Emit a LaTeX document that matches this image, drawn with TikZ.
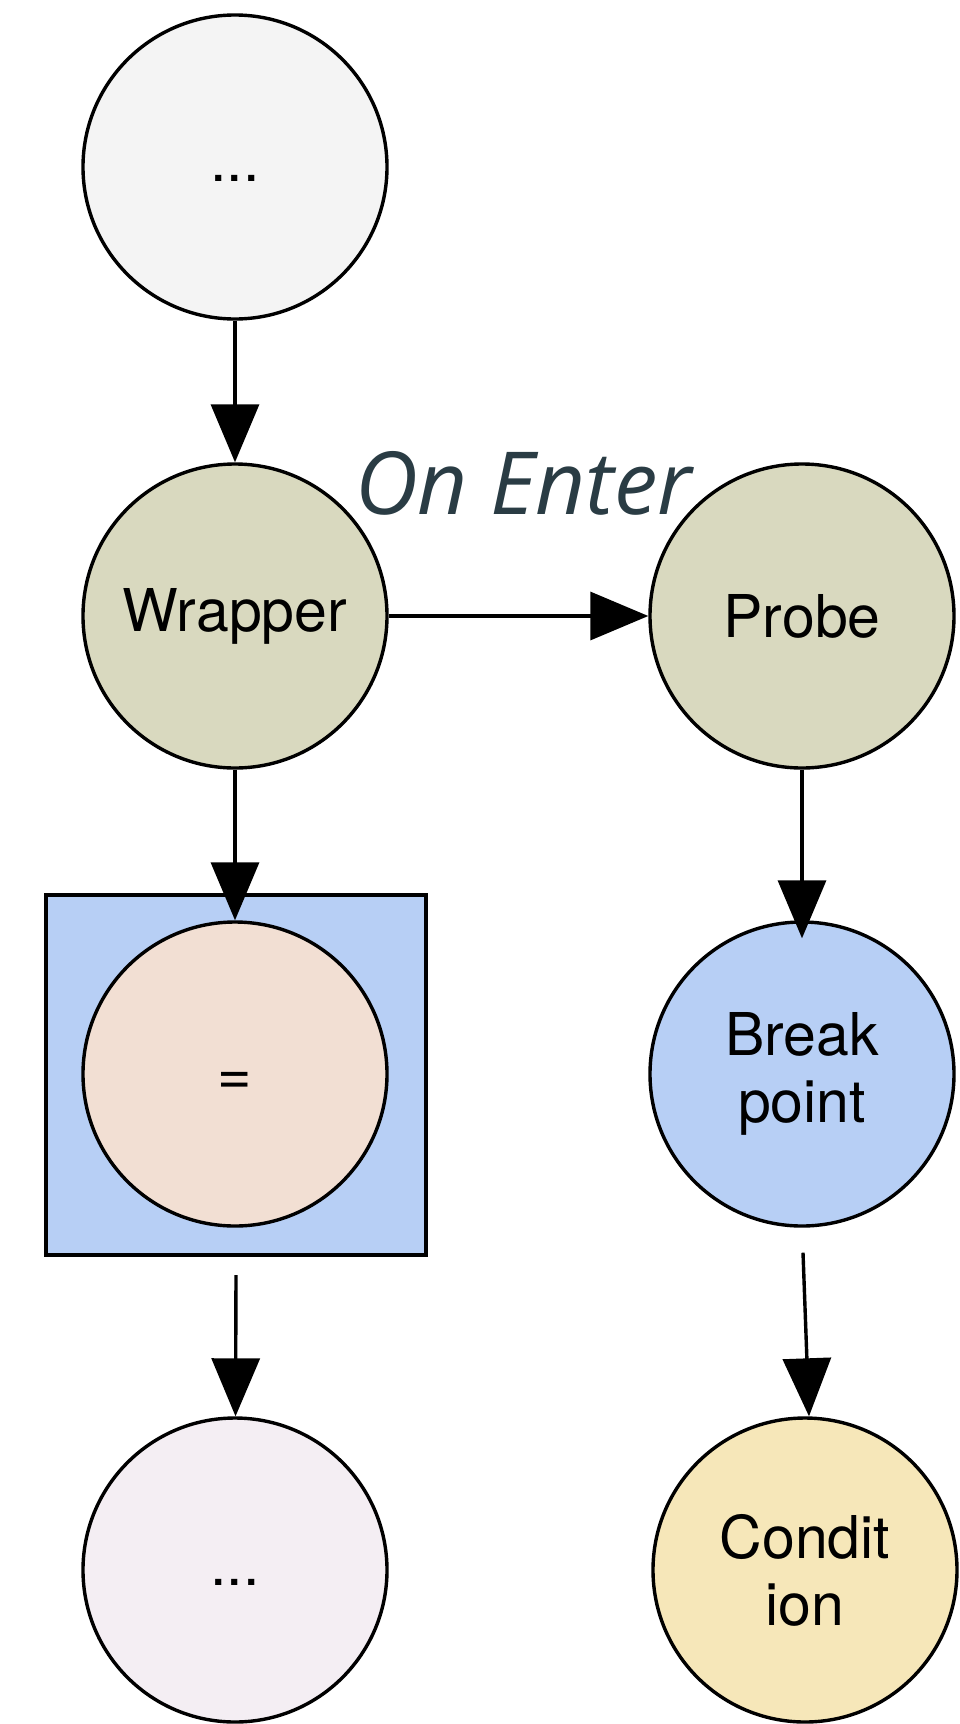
\documentclass[tikz,border=0pt]{standalone}
\usepackage{fontspec}
\setmainfont{TeX Gyre Heros}
\newfontfamily\labelfont{Open Sans}
\usetikzlibrary{arrows.meta,calc}

\definecolor{topgrey}{HTML}{F4F4F4}
\definecolor{olivefill}{HTML}{D9D9BF}
\definecolor{peach}{HTML}{F2DFD3}
\definecolor{paleblue}{HTML}{B7CFF5}
\definecolor{lilac}{HTML}{F4EEF3}
\definecolor{cream}{HTML}{F6E7B9}
\definecolor{slate}{HTML}{2A3C44}

% text whose baseline sits #1 below the node centre
\newcommand{\lowtext}[2]{\raisebox{-#1}[0pt][0pt]{#2}}

\begin{document}
\begin{tikzpicture}[x=1pt,y=-1pt,
  state/.style={circle, draw=black, line width=3.4pt, minimum size=304pt,
    inner sep=0pt, align=center, font=\fontsize{59}{67}\selectfont},
  flow/.style={line width=3.4pt, -{Triangle[length=58pt,width=48pt]}},
]
\useasboundingbox (0,0) rectangle (959,1724);

% enclosing box behind the assignment node
\node[draw=black, line width=4pt, fill=paleblue, minimum width=380pt,
  minimum height=360pt, inner sep=0pt] (box) at (236,1075) {};

% states
\node[state, fill=topgrey]    (top)   at (235,167)  {\lowtext{14pt}{...}};
\node[state, fill=olivefill]  (wrap)  at (235,616)  {Wrapper};
\node[state, fill=olivefill]  (probe) at (802,616)  {Probe};
\node[state, fill=peach]      (eq)    at (235,1074) {\lowtext{20pt}{=}};
\node[state, fill=paleblue]   (bp)    at (802,1074) {Break\\point};
\node[state, fill=lilac]      (low)   at (235,1570) {\lowtext{15pt}{...}};
\node[state, fill=cream]      (cond)  at (805,1570) {Condit\\ion};

% edge label
\node[anchor=base west, inner sep=0pt, text=slate,
  font=\fontsize{87}{87}\labelfont\itshape] (enter) at (355,514) {On Enter};

% connectors
\coordinate (boxout) at ($(box.south)+(0,18)$);
\coordinate (bpout)  at ($(bp.south)+(1,25)$);
\coordinate (condin) at ($(cond.north)+(4,0)$);

\draw[flow] (top) -- (wrap);
\draw[flow] (wrap) -- (probe);
\draw[flow] (wrap) -- (eq);
\draw[flow, shorten >=-18pt] (probe) -- (bp);
\draw[flow] (boxout) -- (low);
\draw[flow] (bpout) -- (condin);
\end{tikzpicture}
\end{document}
